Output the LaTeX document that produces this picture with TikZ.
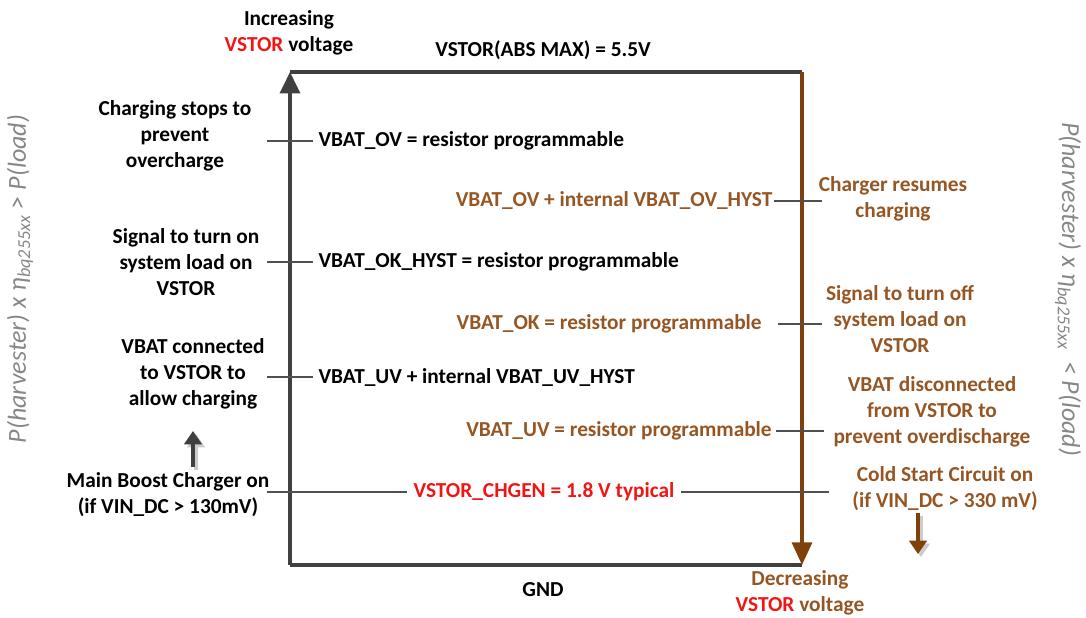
\documentclass[tikz,border=0pt]{standalone}
\usepackage{fontspec}
\setmainfont{Carlito}
\usetikzlibrary{arrows.meta,positioning}
\definecolor{axisgray}{RGB}{64,64,64}
\definecolor{tickgray}{RGB}{80,80,80}
\definecolor{brn}{RGB}{128,64,10}
\definecolor{brntext}{RGB}{150,86,36}
\definecolor{vred}{RGB}{240,22,22}
\definecolor{sidegray}{RGB}{135,135,135}
\newcommand{\vstorred}{\textcolor{vred}{VSTOR}}
\tikzset{
    note/.style={
           align=center,
           inner sep=0pt,
           font=\bfseries\fontsize{16}{19.5}\selectfont
           },
    level/.style={
           inner sep=0pt,
           font=\bfseries\fontsize{16}{19.5}\selectfont
           },
    tick/.style={
           draw=tickgray, line width=1pt
           },
    side/.style={
           text=sidegray,
           font=\itshape\fontsize{19.5}{22}\selectfont
           }
}

\begin{document}
\begin{tikzpicture}[x=0.75pt, y=-0.75pt]
   \useasboundingbox (0,0) rectangle (1086,618);

   % corners of the frame
   \coordinate (bl) at (290,565);
   \coordinate (tl) at (290,72);
   \coordinate (tr) at (802,72);
   \coordinate (br) at (802,565);

   % frame
   \draw[axisgray, line width=2.4pt] (tl) -- (tr);
   \draw[axisgray, line width=2.4pt] (bl) -- (br);
   \draw[axisgray, line width=2.4pt, -{Triangle[width=15pt,length=16pt]}] (bl) -- (tl);
   \draw[brn, line width=2.4pt, -{Triangle[width=15pt,length=17pt]}] (tr) -- (br);

   % top and bottom labels
   \node[note] (incr)   at (289,33)  {Increasing\\\vstorred{} voltage};
   \node[level] (absmax) at (543,50)  {VSTOR(ABS MAX) = 5.5V};
   \node[level] (gnd)    at (543,590) {GND};
   \node[note, text=brntext] (decr) at (800,593) {Decreasing\\\vstorred{} voltage};

   % rising thresholds (left)
   \coordinate (ovL) at (267,141);   \coordinate (ovR) at (313,141);
   \coordinate (okhL) at (267,262);  \coordinate (okhR) at (313,262);
   \coordinate (uvhL) at (267,377);  \coordinate (uvhR) at (313,377);
   \draw[tick] (ovL) -- (ovR);
   \draw[tick] (okhL) -- (okhR);
   \draw[tick] (uvhL) -- (uvhR);
   \node[level, anchor=west, right=4pt of ovR]  (ov)  {VBAT\_OV = resistor programmable};
   \node[level, anchor=west, right=4pt of okhR] (okh) {VBAT\_OK\_HYST = resistor programmable};
   \node[level, anchor=west, right=4pt of uvhR] (uvh) {VBAT\_UV + internal VBAT\_UV\_HYST};

   \node[note] (stops)  at (175,136) {Charging stops to\\prevent\\overcharge};
   \node[note] (sigon)  at (186,262) {Signal to turn on\\system load on\\VSTOR};
   \node[note] (vbaton) at (193,374) {VBAT connected\\to VSTOR to\\allow charging};
   \node[note] (boost)  at (168,495) {Main Boost Charger on\\(if VIN\_DC > 130mV)};

   % falling thresholds (right)
   \coordinate (ovhL) at (774,201);  \coordinate (ovhR) at (822,201);
   \coordinate (okL) at (778,324);   \coordinate (okR) at (822,324);
   \coordinate (uvL) at (776,431);   \coordinate (uvR) at (824,431);
   \draw[tick] (ovhL) -- (ovhR);
   \draw[tick] (okL) -- (okR);
   \draw[tick] (uvL) -- (uvR);
   \node[level, text=brntext, anchor=east, left=1pt of ovhL] (ovh) {VBAT\_OV + internal VBAT\_OV\_HYST};
   \node[level, text=brntext, anchor=east, left=12pt of okL]  (ok)  {VBAT\_OK = resistor programmable};
   \node[level, text=brntext, anchor=east, left=3pt of uvL]   (uv)  {VBAT\_UV = resistor programmable};

   \node[note, text=brntext] (resumes) at (893,199) {Charger resumes\\charging};
   \node[note, text=brntext] (sigoff)  at (900,319) {Signal to turn off\\system load on\\VSTOR};
   \node[note, text=brntext] (vbatoff) at (932,412) {VBAT disconnected\\from VSTOR to\\prevent overdischarge};
   \node[note, text=brntext] (cold)    at (945,489) {Cold Start Circuit on\\(if VIN\_DC > 330 mV)};

   % charger enable level
   \coordinate (chgL) at (267,492);
   \coordinate (chgR) at (829,492);
   \node[level, text=vred, inner xsep=5pt] (chgen) at (544,492) {VSTOR\_CHGEN = 1.8 V typical};
   \draw[tick] (chgL) -- (chgen.west);
   \draw[tick] (chgen.east) -- (chgR);

   % small direction arrows
   \coordinate (upS) at (193,467);  \coordinate (upE) at (193,431);
   \coordinate (dnS) at (918,513);  \coordinate (dnE) at (918,554);
   \draw[black!20, line width=3.5pt, -{Triangle[width=13pt,length=10pt]}] ([shift={(3,3)}]upS) -- ([shift={(3,3)}]upE);
   \draw[axisgray, line width=3.5pt, -{Triangle[width=13pt,length=10pt]}] (upS) -- (upE);
   \draw[black!20, line width=3.5pt, -{Triangle[width=13pt,length=10pt]}] ([shift={(3,3)}]dnS) -- ([shift={(3,3)}]dnE);
   \draw[brn, line width=3.5pt, -{Triangle[width=13pt,length=10pt]}] (dnS) -- (dnE);

   % power balance on each side
   \node[side, rotate=90]  (pleft)  at (20,279)   {P(harvester) x η\textsubscript{bq255xx} > P(load)};
   \node[side, rotate=-90] (pright) at (1068,289) {P(harvester) x η\textsubscript{bq255xx}\ \ < P(load)};
\end{tikzpicture}
\end{document}
